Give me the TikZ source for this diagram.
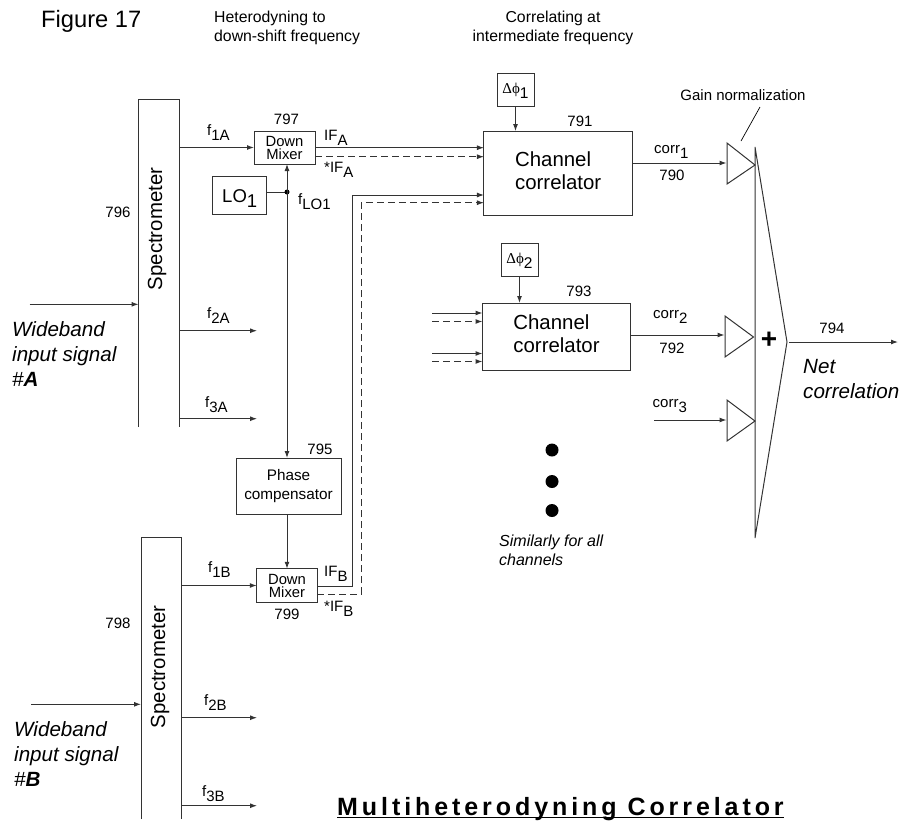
\documentclass[tikz,border=0pt]{standalone}
\usepackage{fontspec}
\setmainfont{Liberation Sans}
\newfontfamily\symfont{Liberation Serif}
\usetikzlibrary{arrows.meta}
\newcommand{\lowsub}[1]{\raisebox{-5pt}[\height][0pt]{#1}}
\newcommand{\twolines}[2]{\begin{tabular}{@{}l@{}}#1\\#2\end{tabular}}
\tikzset{
  wire/.style={line width=1pt,draw=black!80},
  flow/.style={wire,-{Latex[length=7pt,width=5pt]}},
  dflow/.style={flow,dash pattern=on 7pt off 4pt},
  box/.style={draw=black!80,line width=1pt,inner sep=0pt,outer sep=0pt,align=center,fill=white},
  lab/.style={font=\fontsize{15}{16}\selectfont,inner sep=0pt},
  sig/.style={font=\fontsize{15}{16}\selectfont,inner sep=0pt,anchor=base west},
  head/.style={font=\fontsize{15.8}{19}\selectfont,inner sep=0pt},
  wide/.style={font=\fontsize{20.6}{25}\selectfont\itshape,inner sep=0pt,align=left,anchor=north west},
  spec/.style={font=\fontsize{20.4}{22}\selectfont,inner sep=0pt,rotate=90},
  corrtext/.style={font=\fontsize{20.4}{23.5}\selectfont},
  mixtext/.style={font=\fontsize{14.8}{13}\selectfont},
  blob/.style={circle,fill=black,inner sep=0pt,minimum size=13pt},
}
\begin{document}
\begin{tikzpicture}[x=1pt,y=-1pt]
\useasboundingbox (0,0) rectangle (902,823);

% spectrometers (open at the bottom)
\coordinate (spAtl) at (138.5,99);
\coordinate (spAtr) at (179,99);
\coordinate (spAbl) at (138.5,427);
\coordinate (spAbr) at (179,427);
\draw[wire] (spAbl) -- (spAtl) -- (spAtr) -- (spAbr);
\coordinate (spBtl) at (141,537);
\coordinate (spBtr) at (181,537);
\coordinate (spBbl) at (141,819);
\coordinate (spBbr) at (181,819);
\draw[wire] (spBbl) -- (spBtl) -- (spBtr) -- (spBbr);
\node[spec] (spAt) at (157,229) {Spectrometer};
\node[spec] (spBt) at (160,667) {Spectrometer};

% boxes
\node[box,minimum width=61pt,minimum height=33pt,mixtext] (mixA) at (284.5,147.5) {Down\\Mixer};
\node[box,minimum width=60.5pt,minimum height=33.5pt,mixtext] (mixB) at (287,585.5) {Down\\Mixer};
\node[box,minimum width=54pt,minimum height=38pt,font=\fontsize{18.5}{20}\selectfont] (lo) at (239.7,195.7) {LO\lowsub{1}};
\node[box,minimum width=105pt,minimum height=56pt,font=\fontsize{15.3}{18.7}\selectfont] (phase) at (288.5,486) {Phase\\compensator};
\node[box,minimum width=148.5pt,minimum height=84.5pt,corrtext] (corrA) at (558.2,173.3) {\twolines{Channel}{correlator}};
\node[box,minimum width=148pt,minimum height=67pt,corrtext] (corrB) at (556.5,336.5) {\twolines{Channel}{correlator}};
\node[box,minimum width=37pt,minimum height=33pt,font=\fontsize{15.5}{16}\selectfont] (dA) at (515.5,89.5) {{\fontsize{15}{16}\selectfont\symfont Δϕ}\lowsub{1}};
\node[box,minimum width=37pt,minimum height=33pt,font=\fontsize{15.5}{16}\selectfont] (dB) at (519.5,259.5) {{\fontsize{15}{16}\selectfont\symfont Δϕ}\lowsub{2}};

% amplifier triangles and summer
\coordinate (t1a) at (727,143); \coordinate (t1b) at (727,184); \coordinate (t1c) at (755,165);
\coordinate (t2a) at (725,316); \coordinate (t2b) at (725,357); \coordinate (t2c) at (753.5,337);
\coordinate (t3a) at (727,400); \coordinate (t3b) at (727,441); \coordinate (t3c) at (755,421);
\draw[wire] (t1a) -- (t1c) -- (t1b) -- cycle;
\draw[wire] (t2a) -- (t2c) -- (t2b) -- cycle;
\draw[wire] (t3a) -- (t3c) -- (t3b) -- cycle;
\coordinate (sumT) at (755,147);
\coordinate (sumB) at (755,538);
\coordinate (sumR) at (787,342);
\draw[wire] (sumT) -- (sumR) -- (sumB) -- cycle;
\node[font=\fontsize{28}{28}\selectfont\bfseries,inner sep=0pt] (plus) at (769,340) {+};

% free ends
\coordinate (inA) at (29.5,304.3);
\coordinate (inB) at (31,704.3);
\coordinate (f2Ae) at (257,330.7);
\coordinate (f3Ae) at (257,418.7);
\coordinate (f2Be) at (257,717.7);
\coordinate (f3Be) at (257,805.7);
\coordinate (netE) at (898,342);
\coordinate (c3s) at (654,420);
\coordinate (junc) at (287,192);
\coordinate (gl1) at (760,107);
\coordinate (gl2) at (741,141);

% spectrometer connectors
\draw[flow] (inA) -- (inA -| spAtl);
\draw[flow] (inB) -- (inB -| spBtl);
\draw[flow] (spAtr |- mixA.west) -- (mixA.west);
\draw[flow] (f2Ae -| spAtr) -- (f2Ae);
\draw[flow] (f3Ae -| spAtr) -- (f3Ae);
\draw[flow] (spBtr |- mixB.west) -- (mixB.west);
\draw[flow] (f2Be -| spBtr) -- (f2Be);
\draw[flow] (f3Be -| spBtr) -- (f3Be);

% LO distribution
\draw[wire] (lo.east |- junc) -- (junc);
\fill[black] (junc) circle (2.5pt);
\draw[flow] (junc) -- (junc |- mixA.south);
\draw[flow] (junc) -- (junc |- phase.north);
\draw[flow] (phase.south -| junc) -- (junc |- mixB.north);

% IF paths
\draw[flow]  (mixA.east |- 0,147.7) -- (corrA.west |- 0,147.7);
\draw[dflow] (mixA.east |- 0,156.7) -- (corrA.west |- 0,156.7);
\draw[flow]  (mixB.east |- 0,586) -- (352.3,586) -- (352.3,195) -- (corrA.west |- 0,195);
\draw[dflow] (mixB.east |- 0,594) -- (361.3,594) -- (361.3,202.7) -- (corrA.west |- 0,202.7);

% second correlator inputs
\coordinate (i1) at (432,313);
\coordinate (i2) at (432,321.5);
\coordinate (i3) at (432,353.5);
\coordinate (i4) at (432,361.5);
\draw[flow]  (i1) -- (i1 -| corrB.west);
\draw[dflow] (i2) -- (i2 -| corrB.west);
\draw[flow]  (i3) -- (i3 -| corrB.west);
\draw[dflow] (i4) -- (i4 -| corrB.west);

% phase inputs
\draw[flow] (dA.south) -- (dA.south |- corrA.north);
\draw[flow] (dB.south) -- (dB.south |- corrB.north);

% correlator outputs
\draw[flow] (corrA.east |- 0,163) -- (726.5,163);
\draw[flow] (corrB.east |- 0,335) -- (724.5,335);
\draw[flow] (c3s) -- (726.5,420);
\draw[flow] (789,342) -- (netE);
\draw[line width=0.7pt] (gl1) -- (gl2);

% dots
\node[blob] (dot1) at (552,450) {};
\node[blob] (dot2) at (552,481.5) {};
\node[blob] (dot3) at (552,510.5) {};

% numbers
\node[lab] (n796) at (118,212) {796};
\node[lab] (n797) at (286.5,119.5) {797};
\node[lab] (n791) at (580,121) {791};
\node[lab] (n793) at (579,291) {793};
\node[lab] (n790) at (672,175) {790};
\node[lab] (n792) at (672,348) {792};
\node[lab] (n794) at (832,328) {794};
\node[lab] (n795) at (320,449) {795};
\node[lab] (n799) at (287,614) {799};
\node[lab] (n798) at (118,623) {798};

% signal labels
\node[sig] (lf1A) at (207,135) {f\lowsub{1A}};
\node[sig] (lf2A) at (207,318) {f\lowsub{2A}};
\node[sig] (lf3A) at (205,407) {f\lowsub{3A}};
\node[sig] (lf1B) at (208,572.5) {f\lowsub{1B}};
\node[sig] (lf2B) at (204,705.5) {f\lowsub{2B}};
\node[sig] (lf3B) at (202,796) {f\lowsub{3B}};
\node[sig] (lfLO) at (298,204) {f\lowsub{LO1}};
\node[sig] (lIFA) at (324,140) {IF\lowsub{A}};
\node[sig] (lIFAs) at (324,172.5) {*IF\lowsub{A}};
\node[sig] (lIFB) at (324,576.7) {IF\lowsub{B}};
\node[sig] (lIFBs) at (324,611.5) {*IF\lowsub{B}};
\node[sig] (lc1) at (654,153) {corr\lowsub{1}};
\node[sig] (lc2) at (653,318) {corr\lowsub{2}};
\node[sig] (lc3) at (652.5,407) {corr\lowsub{3}};

% texts
\node[inner sep=0pt,anchor=base west,font=\fontsize{23.7}{25}\selectfont] (fig) at (41,27) {Figure 17};
\node[head,anchor=north west,align=left] (h1) at (214,11) {Heterodyning to\\down-shift frequency};
\node[head,anchor=north,align=center] (h2) at (553,11) {Correlating at\\intermediate frequency};
\node[lab] (gain) at (743,95) {Gain normalization};
\node[wide] (wA) at (12,321.7) {Wideband\\input signal\\\#\textbf{A}};
\node[wide] (wB) at (14,721.7) {Wideband\\input signal\\\#\textbf{B}};
\node[wide] (net) at (803,359.6) {Net\\correlation};
\node[inner sep=0pt,align=left,anchor=north west,font=\fontsize{16}{18.5}\selectfont\itshape] (sim) at (499,535) {Similarly for all\\channels};
\node[inner sep=0pt,anchor=base west,font=\fontsize{25}{27}\selectfont\bfseries] (title) at (337,815) {\addfontfeatures{LetterSpace=15.7}Multiheterodyning Correlator};
\draw[line width=1.5pt] ([yshift=-2.5pt]title.base west) -- ([yshift=-2.5pt]title.base east);
\end{tikzpicture}
\end{document}
